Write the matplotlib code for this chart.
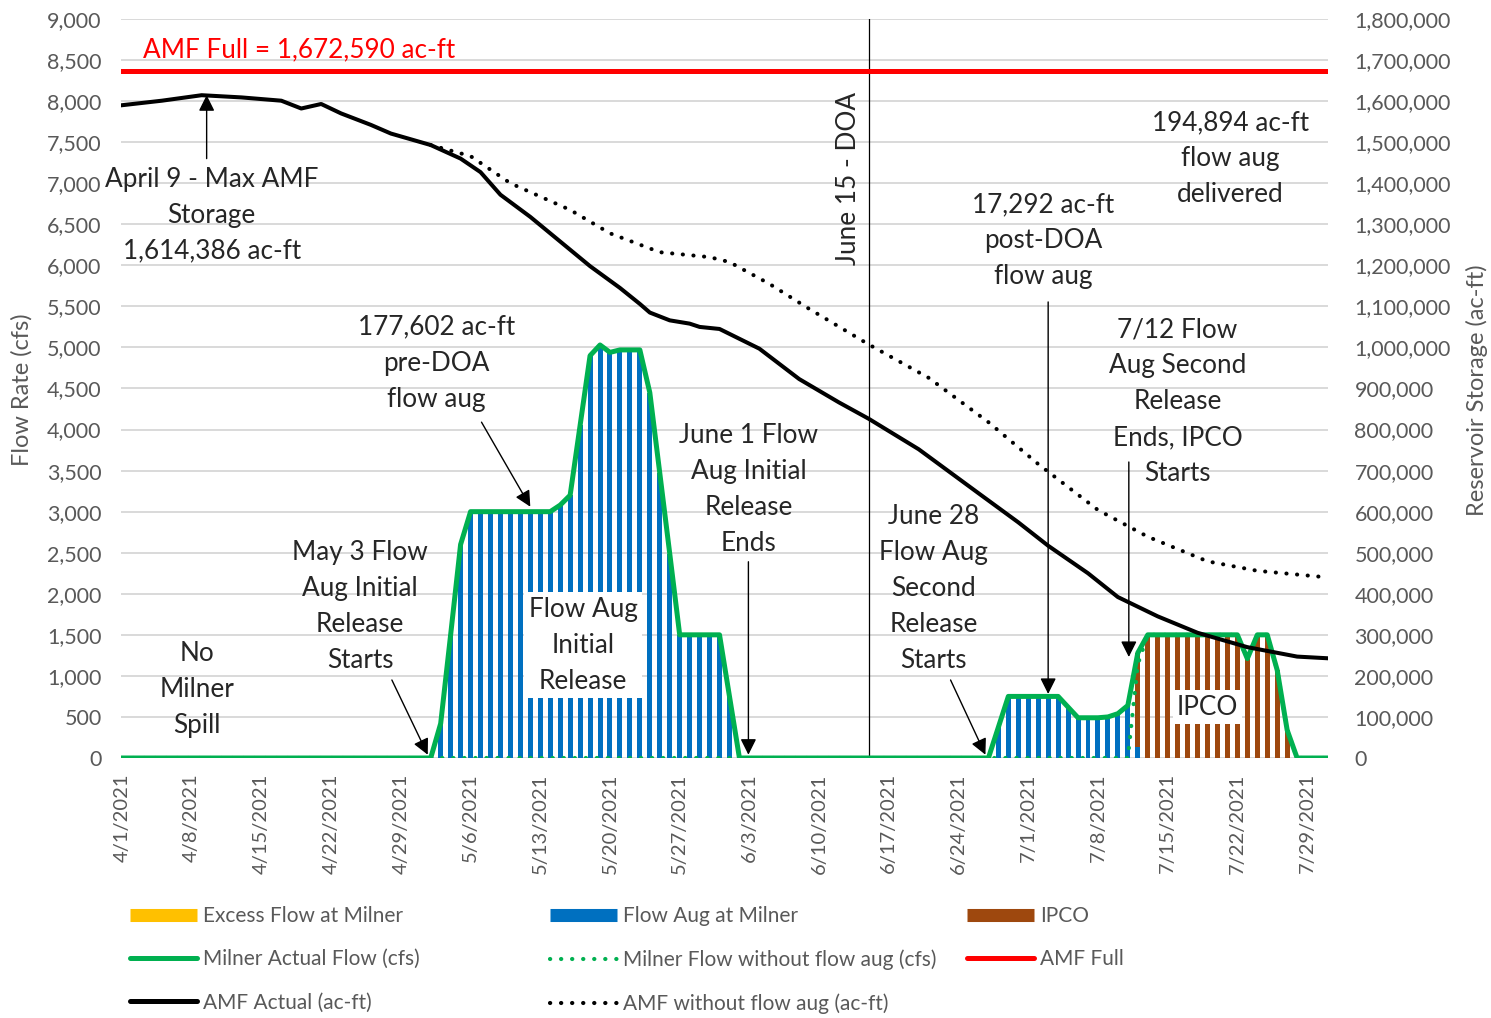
import matplotlib
matplotlib.use('Agg')
import matplotlib.pyplot as plt
import matplotlib.dates as mdates
from matplotlib.lines import Line2D
from matplotlib.ticker import MultipleLocator, FuncFormatter
import pandas as pd

plt.rcParams['font.family'] = ['Lato', 'DejaVu Sans']

# --- data ---
period_start = '2021-04-01'
period_end = '2021-07-31'

# Milner actual flow (cfs), daily, first flow aug release (starting 5/2)
release1_start = '2021-05-02'
release1_flow = [0, 420, 1500, 2600, 3000, 3000, 3000, 3000, 3000, 3000, 3000,
                 3000, 3000, 3080, 3200, 4050, 4900, 5030, 4940, 4970, 4970,
                 4970, 4450, 3470, 2490, 1500, 1500, 1500, 1500, 1500, 750, 0]

# Milner actual flow (cfs), daily, second release + IPCO (starting 6/27)
release2_start = '2021-06-27'
release2_flow = [0, 375, 750, 750, 750, 750, 750, 750, 620, 490, 490, 490,
                 500, 540, 640, 1280, 1500, 1500, 1500, 1500, 1500, 1500,
                 1500, 1500, 1500, 1500, 1210, 1500, 1500, 1070, 340, 0]

# IPCO part of the flow (= Milner flow without flow aug), starting 7/12
ipco_start = '2021-07-12'
ipco_flow = [1140, 1500, 1500, 1500, 1500, 1500, 1500, 1500, 1500, 1500,
             1500, 1210, 1500, 1500, 1070, 340]

# AMF storage (ac-ft)
amf_actual_dates = ['04-01', '04-05', '04-09', '04-13', '04-17', '04-19', '04-21',
                    '04-23', '04-26', '04-28', '05-02', '05-05', '05-07', '05-09',
                    '05-12', '05-14', '05-18', '05-21', '05-23', '05-24', '05-26',
                    '05-28', '05-29', '05-31', '06-04', '06-08', '06-12', '06-15',
                    '06-20', '06-26', '06-30', '07-03', '07-07', '07-10', '07-14',
                    '07-18', '07-23', '07-28', '07-31']
amf_actual = [1590000, 1601000, 1614386, 1609000, 1601000, 1582000, 1593000,
              1570000, 1542000, 1521000, 1493000, 1460000, 1427000, 1372000,
              1318000, 1278000, 1198000, 1145000, 1106000, 1085000, 1066000,
              1058000, 1050000, 1045000, 997000, 923000, 866000, 826000,
              752000, 645000, 574000, 517000, 450000, 392000, 345000,
              305000, 270000, 247000, 243000]

amf_noaug_dates = ['05-02', '05-06', '05-10', '05-16', '05-20', '05-25', '05-30',
                   '06-01', '06-05', '06-09', '06-15', '06-21', '06-27', '07-02',
                   '07-08', '07-13', '07-19', '07-24', '07-31']
amf_noaug = [1493000, 1466000, 1400000, 1335000, 1278000, 1232000, 1220000,
             1208000, 1155000, 1094000, 1007000, 926000, 818000, 716000,
             604000, 539000, 479000, 456000, 440000]

amf_full = 1672590
doa_date = '2021-06-15'
max_date = '2021-04-09'
max_storage = 1614386

# --- build daily series ---
days = pd.date_range(period_start, period_end, freq='D')
actual = pd.Series(0.0, index=days)
actual[pd.date_range(release1_start, periods=len(release1_flow))] = release1_flow
actual[pd.date_range(release2_start, periods=len(release2_flow))] = release2_flow
no_aug = pd.Series(0.0, index=days)
no_aug[pd.date_range(ipco_start, periods=len(ipco_flow))] = ipco_flow
flow_aug = actual - no_aug
excess = pd.Series(0.0, index=days)

act_dates = pd.to_datetime(['2021-' + d for d in amf_actual_dates])
noaug_dates = pd.to_datetime(['2021-' + d for d in amf_noaug_dates])

# colours
C_EXCESS = '#FFC000'
C_AUG = '#0070C0'
C_IPCO = '#9E480E'
C_GREEN = '#00B050'
C_RED = '#FF0000'
C_GRID = '#D9D9D9'
C_TICK = '#595959'
C_TEXT = '#262626'

W, H = 1491, 1018
fig = plt.figure(figsize=(W / 100, H / 100), dpi=100)
ax = fig.add_axes([121 / W, 1 - 758 / H, (1328 - 121) / W, (758 - 19) / H])
ax2 = ax.twinx()

# bars (stacked: excess, flow aug, IPCO)
ax.bar(days, excess, width=0.5, color=C_EXCESS, linewidth=0, zorder=2)
ax.bar(days, flow_aug, bottom=excess, width=0.5, color=C_AUG, linewidth=0, zorder=2)
ax.bar(days, no_aug, bottom=excess + flow_aug, width=0.5, color=C_IPCO, linewidth=0, zorder=2)

dot = (0, (0.05, 2.6))
ax.plot(days, no_aug, color=C_GREEN, lw=3.0, linestyle=dot, dash_capstyle='round', zorder=3)
ax.plot(days, actual, color=C_GREEN, lw=3.6, solid_joinstyle='round', zorder=4)

ax.axvline(pd.Timestamp(doa_date), color='black', lw=0.9, zorder=3)

# storage on secondary axis
ax2.plot(act_dates, amf_actual, color='black', lw=2.9, solid_joinstyle='round')
ax2.plot(noaug_dates, amf_noaug, color='black', lw=2.9, linestyle=dot, dash_capstyle='round')
ax2.axhline(amf_full, color=C_RED, lw=3.6)

# axes
x0 = mdates.date2num(pd.Timestamp(period_start))
x1 = mdates.date2num(pd.Timestamp(period_end))
ax.set_xlim(x0 - 0.1, x1 + 0.1)
ax.set_ylim(0, 9000)
ax2.set_ylim(0, 1800000)
ax.yaxis.set_major_locator(MultipleLocator(500))
ax2.yaxis.set_major_locator(MultipleLocator(100000))
ax.yaxis.set_major_formatter(FuncFormatter(lambda v, p: f'{int(v):,}'))
ax2.yaxis.set_major_formatter(FuncFormatter(lambda v, p: f'{int(v):,}'))

tick_days = pd.date_range('2021-04-01', '2021-07-29', freq='7D')
ax.set_xticks(tick_days)
ax.set_xticklabels([f'{d.month}/{d.day}/{d.year}' for d in tick_days], rotation=90)

ax.grid(axis='y', color=C_GRID, lw=1.4, zorder=0)
ax.set_axisbelow(True)
for a in (ax, ax2):
    for s in a.spines.values():
        s.set_visible(False)
ax.tick_params(axis='y', length=0, pad=14, labelsize=15.5, labelcolor=C_TICK)
ax.tick_params(axis='x', length=0, pad=11, labelsize=14.5, labelcolor=C_TICK)
ax2.tick_params(axis='y', length=0, pad=19, labelsize=15.5, labelcolor=C_TICK)

fig.text(22 / W, 1 - 390 / H, 'Flow Rate (cfs)', rotation=90, ha='center', va='center',
         fontsize=17, color=C_TICK)
fig.text(1477 / W, 1 - 390 / H, 'Reservoir Storage (ac-ft)', rotation=90, ha='center',
         va='center', fontsize=17, color=C_TICK)


# --- annotations (positions in flow-axis coordinates) ---
def day(n):
    return x0 + n


def note(txt, xd, yv, box=False, **kw):
    bbox = dict(facecolor='white', edgecolor='none', pad=3) if box else None
    ax.text(day(xd), yv, txt, ha='center', va='center', fontsize=18.8, color=C_TEXT,
            linespacing=1.55, bbox=bbox, zorder=6, **kw)


def arrow(xa, ya, xb, yb):
    ax.annotate('', xy=(day(xb), yb), xytext=(day(xa), ya),
                arrowprops=dict(arrowstyle='-|>', color='black', lw=1.0,
                                mutation_scale=24, shrinkA=0, shrinkB=0), zorder=5)


ax.text(day(2.1), 8620, 'AMF Full = 1,672,590 ac-ft', color=C_RED, fontsize=18.8,
        ha='left', va='center')

note('April 9 - Max AMF\nStorage\n1,614,386 ac-ft', 9.0, 6610)
peak_x = mdates.date2num(pd.Timestamp(max_date)) - x0 + 0.5
arrow(peak_x, 7300, peak_x, max_storage / 200)

note('No\nMilner\nSpill', 7.5, 840)

note('May 3 Flow\nAug Initial\nRelease\nStarts', 23.9, 1840)
arrow(27.1, 950, 30.7, 40)

note('177,602 ac-ft\npre-DOA\nflow aug', 31.6, 4810)
arrow(36.1, 4090, 41.0, 3060)

note('Flow Aug\nInitial\nRelease', 46.3, 1376, box=True)

note('June 1 Flow\nAug Initial\nRelease\nEnds', 62.9, 3276)
arrow(62.9, 2390, 62.9, 40)

ax.text(day(73.0), 7064, 'June 15 - DOA', rotation=90, ha='center', va='center',
        fontsize=18.8, color=C_TEXT)

note('17,292 ac-ft\npost-DOA\nflow aug', 92.5, 6297)
arrow(93.0, 5554, 93.0, 780)

note('194,894 ac-ft\nflow aug\ndelivered', 111.3, 7295)

note('7/12 Flow\nAug Second\nRelease\nEnds, IPCO\nStarts', 106.0, 4336)
arrow(101.1, 3605, 101.1, 1230)

note('June 28\nFlow Aug\nSecond\nRelease\nStarts', 81.5, 2070)
arrow(83.2, 950, 86.7, 40)

note('IPCO', 109.0, 621, box=True)

# --- legend, three columns ---
dotted_kw = dict(linestyle=dot, dash_capstyle='round')
cols = [
    (130, [(Line2D([], [], color=C_EXCESS, lw=9.4, solid_capstyle='butt'), 'Excess Flow at Milner'),
           (Line2D([], [], color=C_GREEN, lw=3.6, solid_capstyle='round'), 'Milner Actual Flow (cfs)'),
           (Line2D([], [], color='black', lw=3.6, solid_capstyle='round'), 'AMF Actual (ac-ft)')]),
    (550, [(Line2D([], [], color=C_AUG, lw=9.4, solid_capstyle='butt'), 'Flow Aug at Milner'),
           (Line2D([], [], color=C_GREEN, lw=3.0, **dotted_kw), 'Milner Flow without flow aug (cfs)'),
           (Line2D([], [], color='black', lw=3.0, **dotted_kw), 'AMF without flow aug (ac-ft)')]),
    (967, [(Line2D([], [], color=C_IPCO, lw=9.4, solid_capstyle='butt'), 'IPCO'),
           (Line2D([], [], color=C_RED, lw=3.6, solid_capstyle='round'), 'AMF Full')]),
]
for xpx, items in cols:
    leg = fig.legend([h for h, _ in items], [l for _, l in items], loc='upper left',
                     bbox_to_anchor=(xpx / W, 1 - 906 / H), frameon=False, fontsize=15,
                     handlelength=3.2, handletextpad=0.3, labelspacing=1.12,
                     borderpad=0, borderaxespad=0)
    for t in leg.get_texts():
        t.set_color(C_TICK)

fig.savefig('out.png', dpi=100)
